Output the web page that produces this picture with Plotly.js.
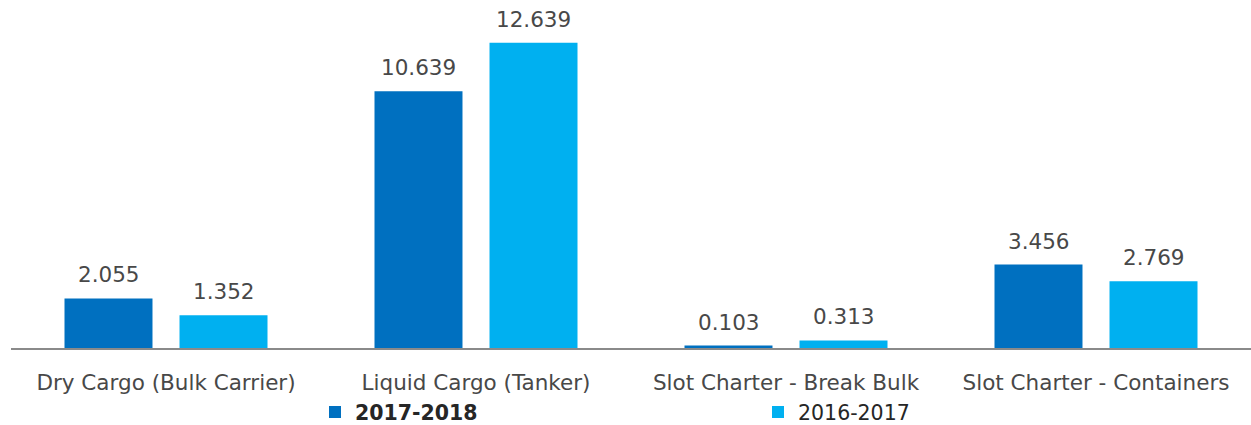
<!DOCTYPE html>
<html>
<head>
<meta charset="utf-8">
<script src="https://cdn.plot.ly/plotly-3.0.1.min.js"></script>
<style>html,body{margin:0;padding:0;background:#fff;}</style>
</head>
<body>
<div id="chart" style="width:1251px;height:425px;"></div>
<script>
var categories = ["Dry Cargo (Bulk Carrier)", "Liquid Cargo (Tanker)", "Slot Charter - Break Bulk", "Slot Charter - Containers"];
var seriesNames = ["2017-2018", "2016-2017"];
var values2017_2018 = [2.055, 10.639, 0.103, 3.456];
var values2016_2017 = [1.352, 12.639, 0.313, 2.769];
var seriesColors = ["#0070C0", "#00B0F0"];

var FONT = "DejaVu Sans, sans-serif";
var allValues = [values2017_2018, values2016_2017];

var traces = allValues.map(function (vals, i) {
  return {
    type: "bar",
    x: categories,
    y: vals,
    name: i === 0 ? "<b>" + seriesNames[i] + "</b>" : seriesNames[i],
    marker: { color: seriesColors[i], line: { width: 0 } },
    hoverinfo: "x+y"
  };
});

var annotations = [];
allValues.forEach(function (vals, i) {
  vals.forEach(function (v, j) {
    annotations.push({
      x: categories[j],
      y: v,
      xref: "x",
      yref: "y",
      text: v.toFixed(3),
      showarrow: false,
      xanchor: "center",
      yanchor: "bottom",
      xshift: i === 0 ? -57.5 : 57.5,
      yshift: 9,
      font: { family: FONT, size: 21.5, color: "#484848" }
    });
  });
});

var layout = {
  width: 1251,
  height: 425,
  margin: { l: 11, r: 0, t: 10, b: 77 },
  paper_bgcolor: "#ffffff",
  plot_bgcolor: "#ffffff",
  barmode: "group",
  bargap: 0.258,
  bargroupgap: 0.235,
  showlegend: true,
  legend: {
    orientation: "h",
    xref: "container",
    yref: "container",
    x: 0.2518,
    xanchor: "left",
    y: 0.03,
    yanchor: "middle",
    entrywidth: 398,
    font: { family: FONT, size: 20.5, color: "#262626" },
    bgcolor: "rgba(0,0,0,0)"
  },
  xaxis: {
    type: "category",
    showline: true,
    linecolor: "#8a8a8a",
    linewidth: 2,
    showgrid: false,
    zeroline: false,
    ticks: "",
    ticklabelstandoff: 14,
    tickfont: { family: FONT, size: 21.5, color: "#484848" },
    fixedrange: true
  },
  yaxis: {
    range: [0, 14],
    showticklabels: false,
    showgrid: false,
    zeroline: false,
    showline: false,
    ticks: "",
    fixedrange: true
  },
  annotations: annotations,
  font: { family: FONT }
};

Plotly.newPlot("chart", traces, layout, { displayModeBar: false, staticPlot: true });
</script>
</body>
</html>
